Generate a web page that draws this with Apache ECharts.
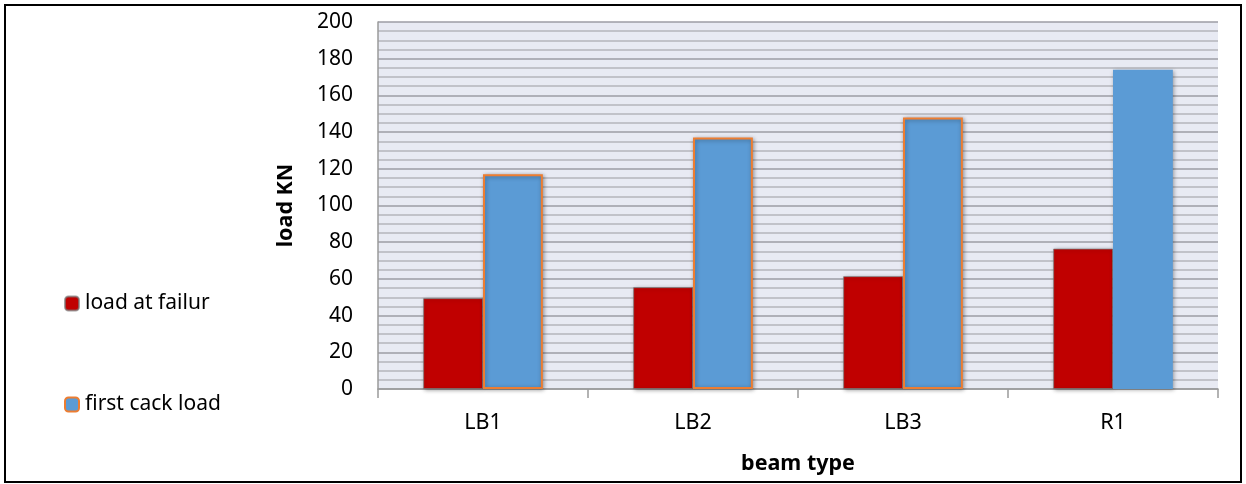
<!DOCTYPE html>
<html>
<head>
<meta charset="utf-8">
<script src="https://cdn.jsdelivr.net/npm/echarts@6/dist/echarts.min.js"></script>
<style>
  html, body { margin: 0; padding: 0; background: #fff; }
  #chart { width: 1246px; height: 484px; }
</style>
</head>
<body>
<div id="chart"></div>
<script>
// Beam types on the horizontal axis
const beamTypes = ['LB1', 'LB2', 'LB3', 'R1'];
// Load values in kN
const loadAtFailure = [49.5, 55.5, 61.5, 76.5];
const firstCrackLoad = [117, 137, 148, 174];
const seriesNames = ['load at failur', 'first cack load'];

const FONT = '"Noto Sans", "Liberation Sans", sans-serif';

const chart = echarts.init(document.getElementById('chart'));

const barShadow = {
  shadowBlur: 4,
  shadowColor: 'rgba(0,0,0,0.35)',
  shadowOffsetX: 1,
  shadowOffsetY: 1
};

chart.setOption({
  animation: false,
  backgroundColor: '#ffffff',
  textStyle: { fontFamily: FONT, color: '#000' },
  graphic: [{
    type: 'rect',
    shape: { x: 5, y: 5, width: 1236, height: 477 },
    style: { fill: 'none', stroke: '#000', lineWidth: 2 },
    silent: true,
    z: 100
  }],
  grid: {
    left: 378,
    right: 28,
    top: 22,
    bottom: 95,
    show: true,
    backgroundColor: '#e8eaf3',
    borderWidth: 0
  },
  legend: {
    orient: 'vertical',
    left: 64,
    top: 293,
    padding: 0,
    itemWidth: 14,
    itemHeight: 14,
    itemGap: 80,
    textStyle: { fontFamily: FONT, fontSize: 21, color: '#000', padding: [0, 0, 0, 1] },
    data: seriesNames
  },
  xAxis: {
    type: 'category',
    data: beamTypes,
    name: 'beam type',
    nameLocation: 'middle',
    nameGap: 64,
    nameTextStyle: { fontFamily: FONT, fontSize: 21.5, fontWeight: 'bold', color: '#000' },
    axisLine: { show: true, lineStyle: { color: '#9a9a9a', width: 1.5 } },
    axisTick: { show: true, length: 9, lineStyle: { color: '#9a9a9a', width: 1.5 } },
    axisLabel: { fontFamily: FONT, fontSize: 21.5, color: '#000', margin: 23 }
  },
  yAxis: {
    type: 'value',
    min: 0,
    max: 200,
    interval: 20,
    name: 'load KN',
    nameLocation: 'middle',
    nameGap: 81,
    nameRotate: 90,
    nameTextStyle: { fontFamily: FONT, fontSize: 21.5, fontWeight: 'bold', color: '#000' },
    axisLine: { show: true, lineStyle: { color: '#9a9a9a', width: 1.5 } },
    axisTick: { show: false },
    axisLabel: { fontFamily: FONT, fontSize: 21, color: '#000', margin: 25 },
    splitLine: { show: true, lineStyle: { color: '#9c9ca4', width: 1.5 } },
    minorTick: { show: false, splitNumber: 4 },
    minorSplitLine: { show: true, lineStyle: { color: '#c1c2c9', width: 2 } }
  },
  series: [
    {
      name: seriesNames[0],
      type: 'bar',
      data: loadAtFailure,
      barGap: '0%',
      barCategoryGap: '43%',
      itemStyle: Object.assign({
        color: '#c00000',
        borderColor: 'rgba(120,120,120,0.7)',
        borderWidth: 1
      }, barShadow)
    },
    {
      name: seriesNames[1],
      type: 'bar',
      data: firstCrackLoad.map((v, i) =>
        beamTypes[i] === 'R1' ? { value: v, itemStyle: { borderWidth: 0 } } : v
      ),
      barGap: '0%',
      barCategoryGap: '43%',
      itemStyle: Object.assign({
        color: '#5b9bd5',
        borderColor: '#ed7d31',
        borderWidth: 2
      }, barShadow)
    }
  ]
});
</script>
</body>
</html>
